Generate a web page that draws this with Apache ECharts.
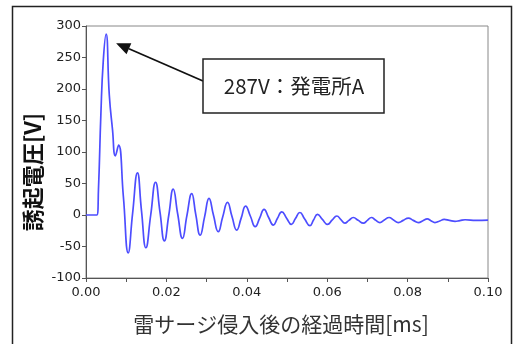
<!DOCTYPE html>
<html><head><meta charset="utf-8">
<script src="https://cdn.jsdelivr.net/npm/echarts@6/dist/echarts.min.js"></script>
<style>html,body{margin:0;padding:0;background:#fff}#c{width:516px;height:344px}</style>
</head><body><div id="c"></div>
<script>
const xTitle = '雷サージ侵入後の経過時間[ms]';
const yTitle = '誘起電圧[V]';
const noteText = '287V：発電所A';
const time = [0, 0.0027, 0.0031, 0.0037, 0.0043, 0.0050, 0.0058, 0.0066, 0.0073, 0.0081, 0.0093, 0.0105,
  0.0116, 0.0128, 0.0138, 0.0149, 0.0161, 0.0173, 0.0184, 0.0195, 0.0206, 0.0217, 0.0228, 0.0240,
  0.0251, 0.0263, 0.0273, 0.0284, 0.0295, 0.0306, 0.0317, 0.0329, 0.0340, 0.0352, 0.0363, 0.0375,
  0.0386, 0.0397, 0.0409, 0.0421, 0.0432, 0.0443, 0.0454, 0.0466, 0.0476, 0.0487, 0.0499, 0.0511,
  0.0521, 0.0532, 0.0544, 0.0557, 0.0566, 0.0576, 0.0588, 0.0601, 0.0612, 0.0624, 0.0634, 0.0644,
  0.0654, 0.0665, 0.0677, 0.0690, 0.0700, 0.0710, 0.0720, 0.0731, 0.0742, 0.0754, 0.0765, 0.0777,
  0.0789, 0.0802, 0.0814, 0.0827, 0.0838, 0.0849, 0.0858, 0.0868, 0.0880, 0.0891, 0.0904, 0.0918,
  0.0930, 0.0943, 0.0970, 0.1000];
const voltage = [0, 0, 40, 160, 245, 287, 190, 135, 94, 111, 29, -60,
  3, 67, 7, -52, 0, 52, 5, -41, 0, 41, 2, -37,
  -1, 34, 1, -32, -3, 26.5, 0, -26.5, -3, 20, -2, -24,
  -5, 14, -2, -18.5, -5, 9, -3.5, -16, -5.5, 5, -5, -15,
  -5.5, 4, -6.5, -17, -8, 1, -7, -15, -8.3, -1.6, -7.3, -13,
  -8.5, -4, -8.5, -13, -8.5, -4, -8, -12, -8, -4, -8, -12,
  -8.5, -5, -8.5, -12, -9, -6.3, -9, -12, -9.5, -7, -8.5, -10,
  -8.8, -7.5, -8.5, -8];
const xTicks = {min: 0, max: 0.1, interval: 0.02};
const yTicks = {min: -100, max: 300, interval: 50};

const chart = echarts.init(document.getElementById('c'));
const data = time.map((t, i) => [t, voltage[i]]);
const latin = 'DejaVu Sans';
const cjk = '"Noto Sans CJK JP", sans-serif';
chart.setOption({
  animation: false,
  grid: {left: 86, right: 28, top: 26, bottom: 66, show: true, borderColor: '#888', borderWidth: 1},
  xAxis: {
    type: 'value', min: xTicks.min, max: xTicks.max, interval: xTicks.interval,
    axisLine: {show: true, onZero: false, lineStyle: {color: '#555'}},
    axisTick: {show: true, length: 4, lineStyle: {color: '#555'}},
    minorTick: {show: true, splitNumber: 2, length: 4, lineStyle: {color: '#555'}},
    splitLine: {show: false},
    axisLabel: {fontFamily: latin, fontSize: 13, color: '#222', margin: 8, formatter: v => v.toFixed(2)}
  },
  yAxis: {
    type: 'value', min: yTicks.min, max: yTicks.max, interval: yTicks.interval,
    axisLine: {show: true, onZero: false, lineStyle: {color: '#555'}},
    axisTick: {show: true, length: 4, lineStyle: {color: '#555'}},
    splitLine: {show: false},
    axisLabel: {fontFamily: latin, fontSize: 13, color: '#222', margin: 5}
  },
  series: [{
    type: 'line', data: data, smooth: 0.5, symbol: 'none',
    lineStyle: {color: '#4d4dff', width: 1.7}
  }]
});

const peakIdx = voltage.indexOf(Math.max(...voltage));
const p = chart.convertToPixel({gridIndex: 0}, [time[peakIdx], voltage[peakIdx]]);
const tip = [p[0] + 10, p[1] + 9];
const start = [203, 81];
const ang = Math.atan2(start[1] - tip[1], start[0] - tip[0]);
const L = 14, W = 6;
const bx = tip[0] + L * Math.cos(ang), by = tip[1] + L * Math.sin(ang);
const nx = -Math.sin(ang), ny = Math.cos(ang);

chart.setOption({
  graphic: [
    {type: 'rect', shape: {x: 12.5, y: 6.5, width: 499, height: 350}, style: {fill: null, stroke: '#222', lineWidth: 1.5}, silent: true, z: 0},
    {type: 'line', shape: {x1: start[0], y1: start[1], x2: bx, y2: by}, style: {stroke: '#111', lineWidth: 1.8}, z: 10},
    {type: 'polygon', shape: {points: [tip, [bx + nx * W, by + ny * W], [bx - nx * W, by - ny * W]]}, style: {fill: '#111'}, z: 10},
    {type: 'rect', shape: {x: 203, y: 59, width: 181, height: 54}, style: {fill: '#fff', stroke: '#222', lineWidth: 1.5}, z: 10},
    {type: 'text', x: 294, y: 86, z: 11, style: {text: noteText, fontFamily: cjk, fontSize: 20.5, fill: '#222', align: 'center', verticalAlign: 'middle'}},
    {type: 'text', x: 33, y: 172, rotation: Math.PI / 2, z: 11, style: {text: yTitle, fontFamily: cjk, fontSize: 22, fontWeight: 'bold', fill: '#111', align: 'center', verticalAlign: 'middle'}},
    {type: 'text', x: 281, y: 324, z: 11, style: {text: xTitle, fontFamily: cjk, fontSize: 21, fill: '#333', align: 'center', verticalAlign: 'middle'}}
  ]
});
</script></body></html>
